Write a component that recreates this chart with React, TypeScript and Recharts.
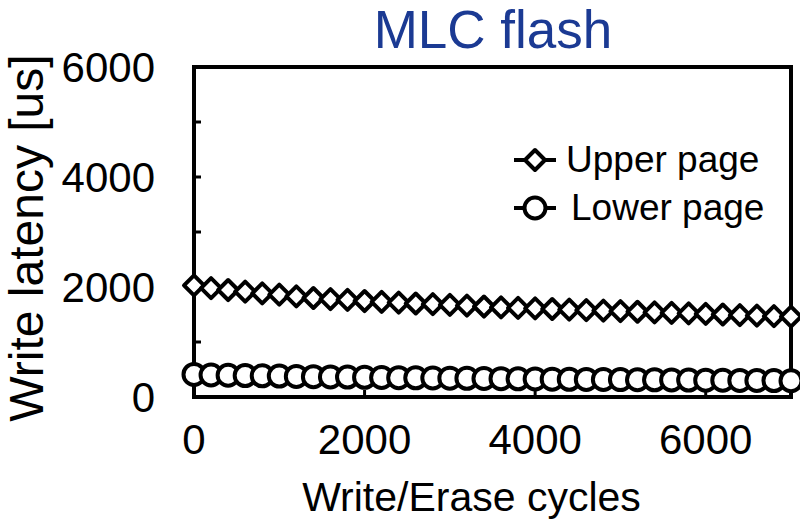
import React from 'react';
import { LineChart, Line, XAxis, YAxis, Legend, ReferenceArea } from 'recharts';

// ── Datos ───────────────────────────────────────────────────────────────────
const CYCLES = [
  0, 200, 400, 600, 800, 1000, 1200, 1400, 1600, 1800, 2000, 2200,
  2400, 2600, 2800, 3000, 3200, 3400, 3600, 3800, 4000, 4200, 4400, 4600,
  4800, 5000, 5200, 5400, 5600, 5800, 6000, 6200, 6400, 6600, 6800, 7000,
];
const UPPER_PAGE = [
  2030, 1980, 1945, 1915, 1885, 1860, 1830, 1800, 1780, 1765, 1745, 1730,
  1715, 1700, 1690, 1675, 1660, 1645, 1630, 1620, 1610, 1600, 1590, 1580,
  1570, 1560, 1550, 1540, 1530, 1520, 1510, 1500, 1490, 1480, 1470, 1460,
];
const LOWER_PAGE = [
  410, 400, 395, 390, 385, 380, 375, 370, 365, 362, 358, 355,
  352, 349, 346, 343, 340, 337, 334, 331, 328, 325, 322, 320,
  318, 316, 314, 312, 310, 308, 306, 304, 302, 300, 298, 296,
];
const X_TICKS = [0, 2000, 4000, 6000];
const Y_TICKS = [0, 1000, 2000, 3000, 4000, 5000, 6000];
const SERIES_ORDER = ['upper', 'lower'];

const FONT = '"Liberation Sans", Arial, sans-serif';
const TITLE_COLOR = '#1b3a93';
const MARK_STROKE = 4;

const data = CYCLES.map((c, i) => ({ cycle: c, upper: UPPER_PAGE[i], lower: LOWER_PAGE[i] }));

// ── Marcadores ──────────────────────────────────────────────────────────────
const Diamond = (props: any) => {
  const { cx, cy } = props;
  if (cx == null || cy == null) return null;
  const h = 10;
  return (
    <path
      key={`d-${props.index}`}
      d={`M${cx},${cy - h}L${cx + h},${cy}L${cx},${cy + h}L${cx - h},${cy}Z`}
      fill="#fff"
      stroke="#000"
      strokeWidth={MARK_STROKE}
      strokeLinejoin="round"
    />
  );
};

const Ring = (props: any) => {
  const { cx, cy } = props;
  if (cx == null || cy == null) return null;
  return <circle key={`c-${props.index}`} cx={cx} cy={cy} r={10.5} fill="#fff" stroke="#000" strokeWidth={MARK_STROKE} />;
};

const LegendContent = (props: any) => {
  const items = [...(props.payload || [])].sort(
    (a: any, b: any) => SERIES_ORDER.indexOf(a.dataKey) - SERIES_ORDER.indexOf(b.dataKey),
  );
  return (
    <div style={{ fontFamily: FONT }}>
      {items.map((it: any) => (
        <div key={it.dataKey} style={{ display: 'flex', alignItems: 'center', height: 48 }}>
          <svg width={46} height={28} style={{ flex: 'none' }}>
            <line x1={2} y1={14} x2={44} y2={14} stroke="#000" strokeWidth={MARK_STROKE} />
            {it.dataKey === 'upper'
              ? <Diamond cx={23} cy={14} index={0} />
              : <Ring cx={23} cy={14} index={0} />}
          </svg>
          <span style={{ fontSize: 37, color: '#000', marginLeft: it.dataKey === 'upper' ? 8 : 13 }}>
            {it.value}
          </span>
        </div>
      ))}
    </div>
  );
};

const yFmt = (v: number) => (v % 2000 === 0 ? String(v) : '');

export default function App() {
  return (
    <div style={{ position: 'absolute', left: 0, top: 0, width: 800, height: 519, background: '#fff', fontFamily: FONT }}>
      <div
        style={{
          position: 'absolute', left: 293, width: 400, top: 3, textAlign: 'center',
          fontSize: 53, lineHeight: 1, color: TITLE_COLOR,
        }}
      >
        MLC flash
      </div>
      <LineChart width={800} height={519} data={data} margin={{ top: 67, right: 9, bottom: 0, left: 0 }}>
        <XAxis
          dataKey="cycle"
          type="number"
          domain={[0, 7000]}
          ticks={X_TICKS}
          height={122}
          tickSize={-7}
          tickMargin={34}
          axisLine={{ stroke: '#000', strokeWidth: 4 }}
          tickLine={{ stroke: '#000', strokeWidth: 3 }}
          tick={{ fill: '#000', fontSize: 42, fontFamily: FONT }}
          label={{ value: 'Write/Erase cycles', position: 'insideBottom', offset: 8, dx: -21, style: { fill: '#000', fontSize: 41, fontFamily: FONT } }}
        />
        <YAxis
          type="number"
          domain={[0, 6000]}
          ticks={Y_TICKS}
          tickFormatter={yFmt}
          width={194}
          tickSize={-7}
          tickMargin={46}
          interval={0}
          axisLine={{ stroke: '#000', strokeWidth: 4 }}
          tickLine={{ stroke: '#000', strokeWidth: 3 }}
          tick={{ fill: '#000', fontSize: 42, fontFamily: FONT }}
          label={{ value: 'Write latency [us]', angle: -90, position: 'insideLeft', offset: 26, dy: 6, style: { fill: '#000', fontSize: 48, fontFamily: FONT, textAnchor: 'middle' } }}
        />
        <ReferenceArea x1={0} x2={7000} y1={0} y2={6000} fill="none" stroke="#000" strokeWidth={4} ifOverflow="visible" />
        <Legend
          layout="vertical"
          align="center"
          verticalAlign="middle"
          content={<LegendContent />}
          wrapperStyle={{ top: 136, left: 512, right: 'auto', width: 280 }}
        />
        <Line dataKey="upper" name="Upper page" stroke="#000" strokeWidth={3.5} dot={<Diamond />} activeDot={false} isAnimationActive={false} />
        <Line dataKey="lower" name="Lower page" stroke="#000" strokeWidth={3.5} dot={<Ring />} activeDot={false} isAnimationActive={false} />
      </LineChart>
    </div>
  );
}
